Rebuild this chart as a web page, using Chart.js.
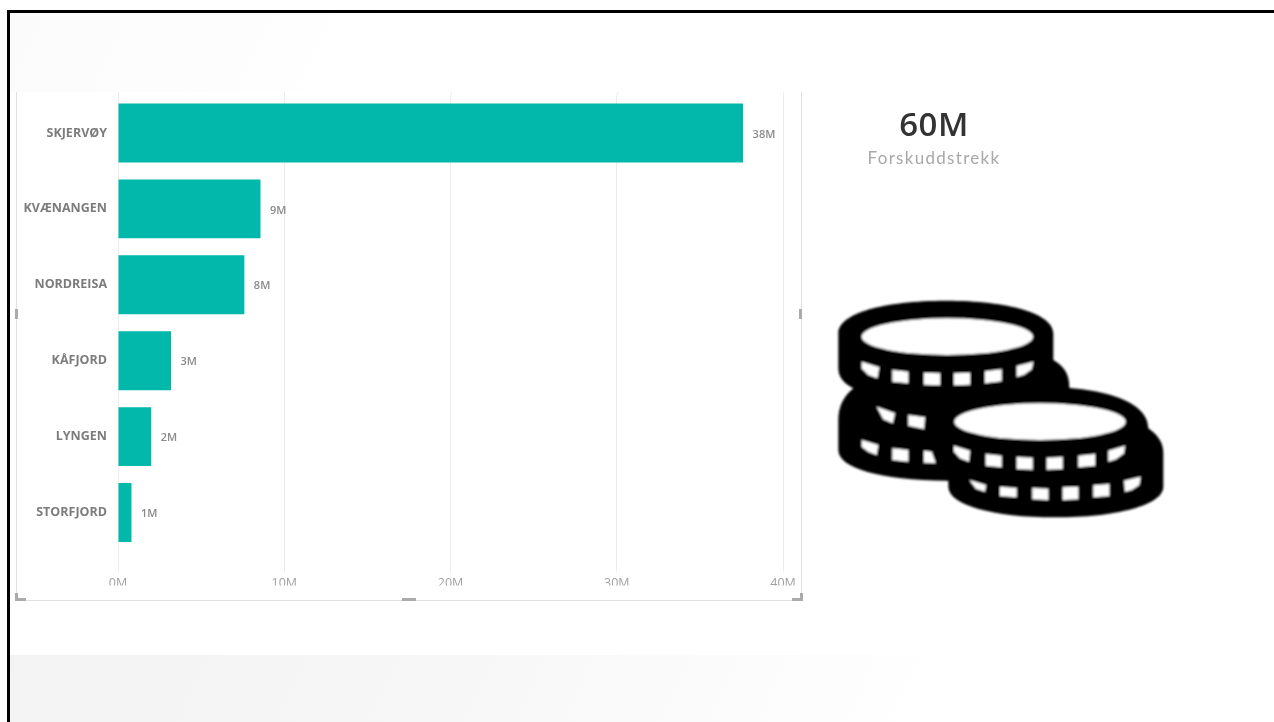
<!DOCTYPE html>
<html>
<head>
<meta charset="utf-8">
<script src="https://cdn.jsdelivr.net/npm/chart.js@4/dist/chart.umd.min.js"></script>
<style>
html,body{margin:0;padding:0;background:#fff;overflow:hidden}
#stage{position:relative;width:1274px;height:722px;overflow:hidden;background:#fff}
#stage div,#stage svg,#stage canvas{position:absolute}
.bar{background:#000}
.line{background:#e0e0e0}
.hd{background:#ababab}
#kpi,#lab{left:834px;width:200px;text-align:center;white-space:nowrap}
#kpi{top:104px;font:600 33px/40px "Open Sans",sans-serif;color:#333;letter-spacing:0.5px}
#lab{top:147px;font:400 17px/22px "Lato",sans-serif;color:#a8a8a8;letter-spacing:1.3px}
</style>
</head>
<body>
<div id="stage">
  <div style="left:9px;top:12px;width:1265px;height:80px;background:linear-gradient(115deg,#fbfbfb 0,#fdfdfd 200px,#fff 340px)"></div>
  <div style="left:9px;top:655px;width:1265px;height:67px;background:linear-gradient(115deg,#f3f3f3 0,#f6f6f6 350px,#fdfdfd 760px,#fff 860px)"></div>
  <div class="bar" style="left:7px;top:10px;width:1267px;height:3px"></div>
  <div class="bar" style="left:7px;top:10px;width:2.5px;height:712px"></div>
  <div class="line" style="left:15.5px;top:92px;width:1.5px;height:508px"></div>
  <div class="line" style="left:800.5px;top:92px;width:1.5px;height:508px"></div>
  <div class="line" style="left:15px;top:599.5px;width:787px;height:1.5px"></div>
  <canvas id="c" width="1274" height="722" style="left:0;top:0"></canvas>
  <div class="hd" style="left:15px;top:309px;width:3px;height:10px"></div>
  <div class="hd" style="left:799px;top:309px;width:3px;height:10px"></div>
  <div class="hd" style="left:402px;top:597.5px;width:14px;height:3px"></div>
  <div class="hd" style="left:15px;top:593px;width:3px;height:8px"></div>
  <div class="hd" style="left:15px;top:598px;width:11px;height:3px"></div>
  <div class="hd" style="left:800px;top:593px;width:3px;height:8px"></div>
  <div class="hd" style="left:792px;top:598px;width:11px;height:3px"></div>
  <div id="kpi">60M</div>
  <div id="lab">Forskuddstrekk</div>
  <svg width="360" height="250" viewBox="0 0 1080 750" style="left:820px;top:280px">
    <defs><filter id="b"><feGaussianBlur stdDeviation="2.6"/></filter></defs>
    <g filter="url(#b)">
      <path fill="#000" d="M55,160C55,100 190,62 378,62C565,62 700,100 700,160L700,240C730,258 748,280 748,320L748,345L600,620L380,602C180,600 55,565 55,510L55,420C55,380 70,350 100,325C70,310 55,290 55,265Z"/>
      <path fill="#000" d="M340,425C340,360 480,320 660,320C840,320 985,360 985,445C1012,465 1030,485 1030,520L1030,620C1030,675 890,712 705,712C520,712 385,675 385,620L385,580L340,510Z"/>
      <g fill="#fff">
        <ellipse cx="382" cy="170" rx="257" ry="55"/>
        <ellipse cx="660" cy="425" rx="257" ry="55"/>
        <path d="M125,245L178,262L172,295L145,285L125,265Z"/>
        <path d="M217,270L265,275L265,310L217,305Z"/>
        <path d="M312,278L360,280L360,316L312,314Z"/>
        <path d="M402,280L450,278L450,314L402,316Z"/>
        <path d="M495,274L545,268L545,304L495,310Z"/>
        <path d="M590,258L640,245L635,268L612,284L590,291Z"/>
        <path d="M170,380L225,400L218,430L190,418Z"/>
        <path d="M265,405L315,412L312,447L265,437Z"/>
        <path d="M125,480L175,495L170,525L145,515L125,500Z"/>
        <path d="M217,505L265,510L265,545L217,540Z"/>
        <path d="M312,512L335,515L347,549L312,548Z"/>
        <path d="M402,497L450,512L447,545L420,535L402,515Z"/>
        <path d="M497,522L545,527L545,562L497,557Z"/>
        <path d="M590,531L638,533L638,569L590,567Z"/>
        <path d="M680,533L728,531L728,567L680,569Z"/>
        <path d="M775,527L825,522L825,557L775,562Z"/>
        <path d="M865,512L915,497L912,520L888,538L865,545Z"/>
        <path d="M448,600L498,615L495,635L468,626Z"/>
        <path d="M540,620L590,624L590,652L540,648Z"/>
        <path d="M637,624L685,626L685,660L637,658Z"/>
        <path d="M728,622L775,620L775,658L728,660Z"/>
        <path d="M820,616L868,612L868,648L820,652Z"/>
        <path d="M912,602L962,590L958,615L935,630L915,635Z"/>
      </g>
    </g>
  </svg>
</div>
<script>
const categories = ["SKJERVØY","KVÆNANGEN","NORDREISA","KÅFJORD","LYNGEN","STORFJORD"];
const values = [37.6,8.57,7.6,3.19,2.0,0.81];
const valueLabels = ["38M","9M","8M","3M","2M","1M"];
const tickValues = [0,10,20,30,40];

const GRID = '#ececec';
const barLabels = {
  id:'barLabels',
  beforeDatasetsDraw(chart){
    const {ctx,scales:{x},chartArea:a}=chart;
    ctx.save();ctx.strokeStyle=GRID;ctx.lineWidth=1;
    tickValues.forEach(v=>{
      const px=Math.round(x.getPixelForValue(v))+0.5;
      ctx.beginPath();ctx.moveTo(px,92);ctx.lineTo(px,a.top);ctx.stroke();
    });
    ctx.restore();
  },
  afterDatasetsDraw(chart){
    const {ctx}=chart;
    ctx.save();
    ctx.font='600 11px "Open Sans",sans-serif';
    ctx.fillStyle='#8a8a8a';ctx.textBaseline='middle';ctx.textAlign='left';
    chart.getDatasetMeta(0).data.forEach((el,i)=>{
      ctx.fillText(valueLabels[i],el.x+9.5,el.y+1.5);
    });
    ctx.restore();
  }
};

new Chart(document.getElementById('c'),{
  type:'bar',
  data:{labels:categories,datasets:[{data:values,backgroundColor:'#01b8aa',barPercentage:0.775,categoryPercentage:1,borderWidth:0}]},
  plugins:[barLabels],
  options:{
    indexAxis:'y',responsive:false,animation:false,
    layout:{padding:{left:0,top:95,right:491,bottom:136.5}},
    plugins:{legend:{display:false},tooltip:{enabled:false},title:{display:false}},
    scales:{
      x:{
        min:0,max:40,position:'bottom',
        afterFit(s){s.height=35},
        afterBuildTicks(s){s.ticks=tickValues.map(v=>({value:v}))},
        border:{display:false},
        grid:{color:GRID,lineWidth:1,tickLength:22,tickColor:GRID},
        ticks:{padding:3,maxRotation:0,autoSkip:false,color:'#a0a0a0',font:{family:'"Open Sans",sans-serif',size:12.5},callback:v=>v+'M'}
      },
      y:{
        afterFit(s){s.width=118},
        border:{display:false},
        grid:{display:false,drawTicks:false},
        ticks:{padding:11,color:'#7c7c7c',font:{family:'"Open Sans",sans-serif',size:12.5,weight:'700'}}
      }
    }
  }
});
</script>
</body>
</html>
